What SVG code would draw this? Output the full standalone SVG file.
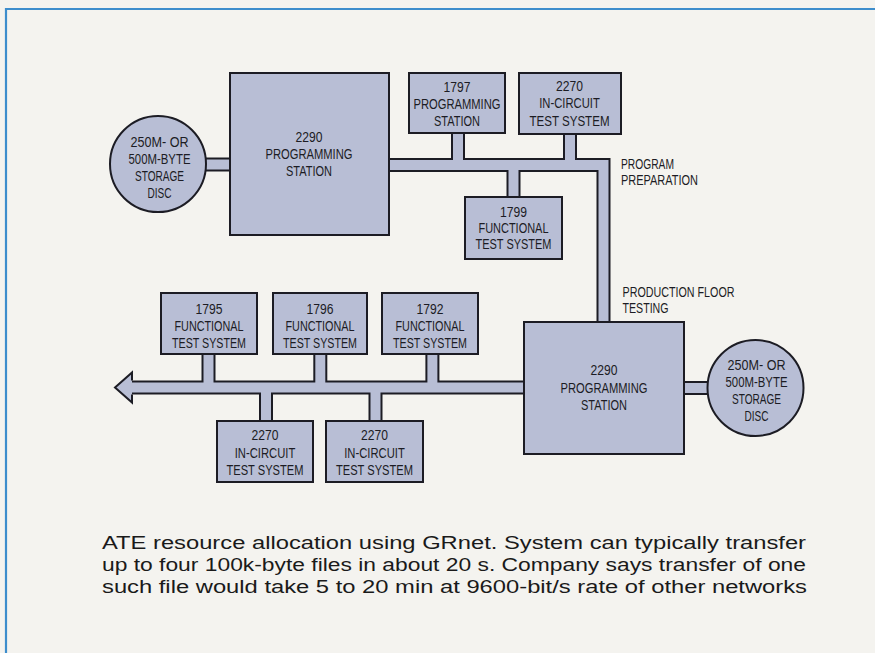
<svg xmlns="http://www.w3.org/2000/svg" xmlns:xlink="http://www.w3.org/1999/xlink" width="875" height="653" viewBox="0 0 875 653">
<style>
.bg{fill:#f4f3ef}
.frame{fill:none;stroke:#3d8dcc;stroke-width:2.2}
.box{fill:#b8bed5;stroke:#1c1c24;stroke-width:2}
.lbl{font-family:"Liberation Sans",Arial,sans-serif;font-size:14px;fill:#1c1c24;text-anchor:middle}
.side{font-family:"Liberation Sans",Arial,sans-serif;font-size:14px;fill:#1c1c24}
.cap{font-family:"Liberation Sans","Helvetica",Arial,sans-serif;font-size:17.5px;fill:#1a1a1a}
.dark{fill:none;stroke:#1c1c24;stroke-width:14;stroke-linejoin:miter}
.light{fill:none;stroke:#b8bed5;stroke-width:10;stroke-linejoin:miter}
</style>
<defs>
<path id="c1" d="M200,164.5 H232"/>
<path id="c2" d="M387,165 H603.5 V324"/>
<path id="c3" d="M458,131 V165"/>
<path id="c4" d="M570,132 V165"/>
<path id="c5" d="M513.5,165 V199"/>
<path id="c6" d="M129,387.5 H526"/>
<path id="c7" d="M208.5,352 V387.5"/>
<path id="c8" d="M320.3,352 V387.5"/>
<path id="c9" d="M432.4,352 V387.5"/>
<path id="c10" d="M266,387.5 V423"/>
<path id="c11" d="M375.5,387.5 V423"/>
<path id="c12" d="M682,388 H713"/>
</defs>
<rect class="bg" x="0" y="0" width="875" height="653"/>
<path class="frame" d="M6,653 V9 H875"/>
<g id="connectors">
<g class="dark">
<use xlink:href="#c1"/><use xlink:href="#c2"/><use xlink:href="#c3"/><use xlink:href="#c4"/><use xlink:href="#c5"/>
<use xlink:href="#c6"/><use xlink:href="#c7"/><use xlink:href="#c8"/><use xlink:href="#c9"/><use xlink:href="#c10"/><use xlink:href="#c11"/><use xlink:href="#c12"/>
</g>
<path d="M132,380.5 V372.5 L115,387.5 L132,402.5 V394.5" fill="#b8bed5" stroke="#1c1c24" stroke-width="2" stroke-linejoin="miter"/>
<g class="light">
<use xlink:href="#c1"/><use xlink:href="#c2"/><use xlink:href="#c3"/><use xlink:href="#c4"/><use xlink:href="#c5"/>
<use xlink:href="#c6"/><use xlink:href="#c7"/><use xlink:href="#c8"/><use xlink:href="#c9"/><use xlink:href="#c10"/><use xlink:href="#c11"/><use xlink:href="#c12"/>
</g>
</g>
<g id="disc-top">
<circle class="box" cx="158" cy="164" r="48"/>
<text class="lbl" x="159.5" y="146.5" textLength="58" lengthAdjust="spacingAndGlyphs">250M- OR</text>
<text class="lbl" x="159.5" y="163.5" textLength="62" lengthAdjust="spacingAndGlyphs">500M-BYTE</text>
<text class="lbl" x="159.5" y="180.5" textLength="49" lengthAdjust="spacingAndGlyphs">STORAGE</text>
<text class="lbl" x="159.5" y="197.5" textLength="24" lengthAdjust="spacingAndGlyphs">DISC</text>
</g>
<g id="station-2290-top">
<rect class="box" x="230" y="73" width="159" height="162"/>
<text class="lbl" x="309" y="142" textLength="27" lengthAdjust="spacingAndGlyphs">2290</text>
<text class="lbl" x="309" y="158.8" textLength="87" lengthAdjust="spacingAndGlyphs">PROGRAMMING</text>
<text class="lbl" x="309" y="175.5" textLength="46" lengthAdjust="spacingAndGlyphs">STATION</text>
</g>
<g id="station-1797">
<rect class="box" x="409" y="73" width="96" height="60"/>
<text class="lbl" x="457" y="91.5" textLength="27" lengthAdjust="spacingAndGlyphs">1797</text>
<text class="lbl" x="457" y="108.8" textLength="87" lengthAdjust="spacingAndGlyphs">PROGRAMMING</text>
<text class="lbl" x="457" y="126" textLength="46" lengthAdjust="spacingAndGlyphs">STATION</text>
</g>
<g id="incircuit-2270-top">
<rect class="box" x="519" y="73" width="102" height="61"/>
<text class="lbl" x="569.5" y="91" textLength="27" lengthAdjust="spacingAndGlyphs">2270</text>
<text class="lbl" x="569.5" y="108.3" textLength="60.5" lengthAdjust="spacingAndGlyphs">IN-CIRCUIT</text>
<text class="lbl" x="569.5" y="126" textLength="80" lengthAdjust="spacingAndGlyphs">TEST SYSTEM</text>
</g>
<g id="functional-1799">
<rect class="box" x="465" y="197" width="97" height="62"/>
<text class="lbl" x="513.5" y="216.7" textLength="27" lengthAdjust="spacingAndGlyphs">1799</text>
<text class="lbl" x="513.5" y="233.3" textLength="70" lengthAdjust="spacingAndGlyphs">FUNCTIONAL</text>
<text class="lbl" x="513.5" y="249.3" textLength="76" lengthAdjust="spacingAndGlyphs">TEST SYSTEM</text>
</g>
<g id="label-program-preparation">
<text class="side" x="621" y="169.3" textLength="53" lengthAdjust="spacingAndGlyphs">PROGRAM</text>
<text class="side" x="621" y="184.7" textLength="77" lengthAdjust="spacingAndGlyphs">PREPARATION</text>
</g>
<g id="label-production-floor">
<text class="side" x="622.5" y="296.7" textLength="112" lengthAdjust="spacingAndGlyphs">PRODUCTION FLOOR</text>
<text class="side" x="622.5" y="313.3" textLength="46" lengthAdjust="spacingAndGlyphs">TESTING</text>
</g>
<g id="functional-1795">
<rect class="box" x="161" y="293" width="96" height="61"/>
<text class="lbl" x="209" y="314.3" textLength="27" lengthAdjust="spacingAndGlyphs">1795</text>
<text class="lbl" x="209" y="331" textLength="69" lengthAdjust="spacingAndGlyphs">FUNCTIONAL</text>
<text class="lbl" x="209" y="347.7" textLength="74" lengthAdjust="spacingAndGlyphs">TEST SYSTEM</text>
</g>
<g id="functional-1796">
<rect class="box" x="273" y="293" width="94" height="61"/>
<text class="lbl" x="320" y="314.3" textLength="27" lengthAdjust="spacingAndGlyphs">1796</text>
<text class="lbl" x="320" y="331" textLength="69" lengthAdjust="spacingAndGlyphs">FUNCTIONAL</text>
<text class="lbl" x="320" y="347.7" textLength="74" lengthAdjust="spacingAndGlyphs">TEST SYSTEM</text>
</g>
<g id="functional-1792">
<rect class="box" x="382" y="293" width="96" height="61"/>
<text class="lbl" x="430" y="314.3" textLength="27" lengthAdjust="spacingAndGlyphs">1792</text>
<text class="lbl" x="430" y="331" textLength="69" lengthAdjust="spacingAndGlyphs">FUNCTIONAL</text>
<text class="lbl" x="430" y="347.7" textLength="74" lengthAdjust="spacingAndGlyphs">TEST SYSTEM</text>
</g>
<g id="incircuit-2270-a">
<rect class="box" x="217" y="421" width="96" height="61"/>
<text class="lbl" x="265" y="440" textLength="27" lengthAdjust="spacingAndGlyphs">2270</text>
<text class="lbl" x="265" y="458.3" textLength="60.5" lengthAdjust="spacingAndGlyphs">IN-CIRCUIT</text>
<text class="lbl" x="265" y="475" textLength="77" lengthAdjust="spacingAndGlyphs">TEST SYSTEM</text>
</g>
<g id="incircuit-2270-b">
<rect class="box" x="326" y="421" width="97" height="61"/>
<text class="lbl" x="374.5" y="440" textLength="27" lengthAdjust="spacingAndGlyphs">2270</text>
<text class="lbl" x="374.5" y="458.3" textLength="60.5" lengthAdjust="spacingAndGlyphs">IN-CIRCUIT</text>
<text class="lbl" x="374.5" y="475" textLength="77" lengthAdjust="spacingAndGlyphs">TEST SYSTEM</text>
</g>
<g id="station-2290-bottom">
<rect class="box" x="524" y="322" width="160" height="132"/>
<text class="lbl" x="604" y="375" textLength="27" lengthAdjust="spacingAndGlyphs">2290</text>
<text class="lbl" x="604" y="393" textLength="87" lengthAdjust="spacingAndGlyphs">PROGRAMMING</text>
<text class="lbl" x="604" y="410" textLength="46" lengthAdjust="spacingAndGlyphs">STATION</text>
</g>
<g id="disc-bottom">
<circle class="box" cx="755.5" cy="388" r="48"/>
<text class="lbl" x="756.5" y="370" textLength="58" lengthAdjust="spacingAndGlyphs">250M- OR</text>
<text class="lbl" x="756.5" y="387.3" textLength="62" lengthAdjust="spacingAndGlyphs">500M-BYTE</text>
<text class="lbl" x="756.5" y="404.3" textLength="49" lengthAdjust="spacingAndGlyphs">STORAGE</text>
<text class="lbl" x="756.5" y="420.7" textLength="24" lengthAdjust="spacingAndGlyphs">DISC</text>
</g>
<g id="caption">
<text class="cap" x="102" y="549.3" textLength="704" lengthAdjust="spacingAndGlyphs">ATE resource allocation using GRnet. System can typically transfer</text>
<text class="cap" x="102" y="571" textLength="704" lengthAdjust="spacingAndGlyphs">up to four 100k-byte files in about 20 s. Company says transfer of one</text>
<text class="cap" x="102" y="592.8" textLength="705" lengthAdjust="spacingAndGlyphs">such file would take 5 to 20 min at 9600-bit/s rate of other networks</text>
</g>
</svg>
